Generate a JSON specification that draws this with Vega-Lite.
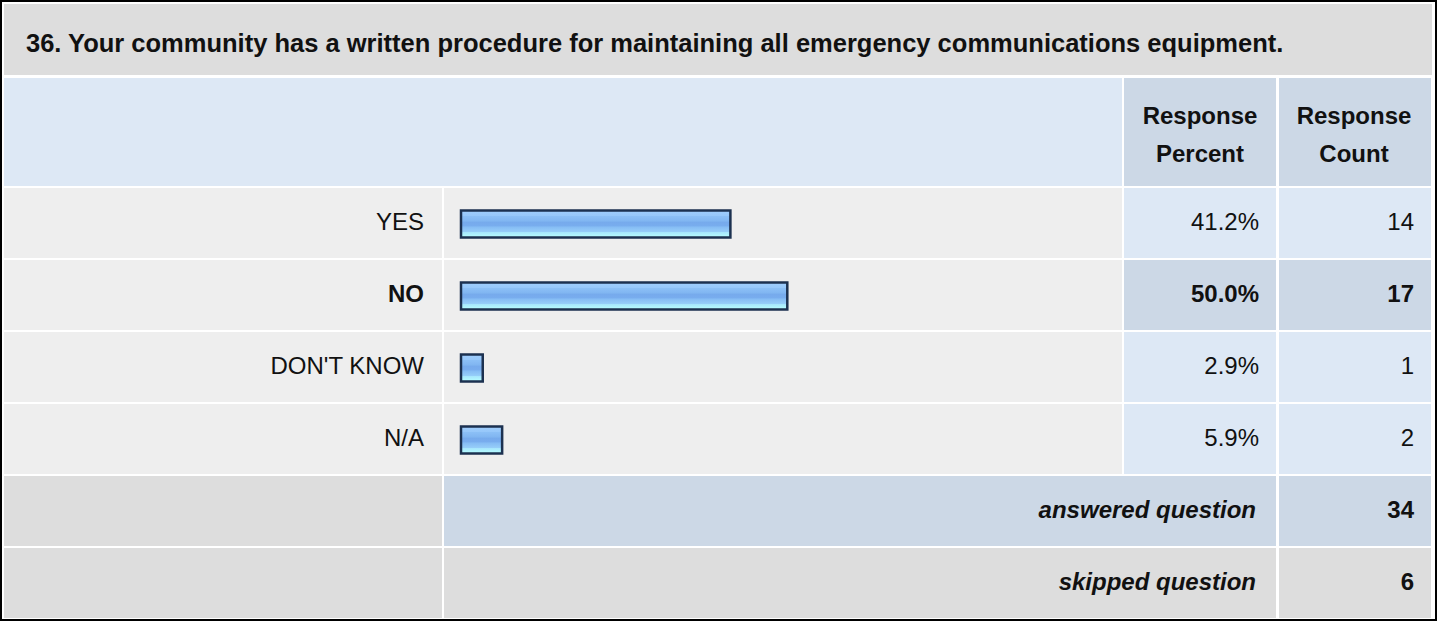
{
  "$schema": "https://vega.github.io/schema/vega-lite/v6.json",
  "width": 1437,
  "height": 621,
  "autosize": {"type": "fit", "contains": "padding"},
  "padding": 2,
  "background": "black",
  "config": {
    "view": {"fill": "white", "stroke": null},
    "axis": {"disable": true},
    "text": {"font": "Liberation Sans", "color": "#111111"}
  },
  "datasets": {
    "answers": [
      {"answer": "YES", "row": 1, "share": 0.412, "count": 14, "top": false},
      {"answer": "NO", "row": 2, "share": 0.5, "count": 17, "top": true},
      {"answer": "DON'T KNOW", "row": 3, "share": 0.029, "count": 1, "top": false},
      {"answer": "N/A", "row": 4, "share": 0.059, "count": 2, "top": false}
    ],
    "totals": [
      {"label": "answered question", "row": 5, "count": 34},
      {"label": "skipped question", "row": 6, "count": 6}
    ],
    "heading": [
      {"question": "36. Your community has a written procedure for maintaining all emergency communications equipment."}
    ]
  },
  "layer": [
    {
      "data": {"name": "heading"},
      "mark": {"type": "rect", "color": "#dddddd"},
      "encoding": {
        "x": {"datum": -0.71141, "type": "quantitative", "scale": {"domain": [-0.7145, 1.5017], "nice": false, "zero": false}},
        "x2": {"datum": 1.49706},
        "y": {"datum": -2.0417, "type": "quantitative", "scale": {"domain": [-2.0694, 6.5], "nice": false, "zero": false, "reverse": true}},
        "y2": {"datum": -1.0556}
      }
    },
    {
      "data": {"name": "heading"},
      "mark": {"type": "rect", "color": "#dde8f5"},
      "encoding": {
        "x": {"datum": -0.71141, "type": "quantitative"},
        "x2": {"datum": 1.01763},
        "y": {"datum": -1.0139, "type": "quantitative"},
        "y2": {"datum": 0.4861}
      }
    },
    {
      "data": {"name": "heading"},
      "mark": {"type": "rect", "color": "#ccd8e6"},
      "encoding": {
        "x": {"datum": 1.02072, "type": "quantitative"},
        "x2": {"datum": 1.2558},
        "y": {"datum": -1.0139, "type": "quantitative"},
        "y2": {"datum": 0.4861}
      }
    },
    {
      "data": {"name": "heading"},
      "mark": {"type": "rect", "color": "#ccd8e6"},
      "encoding": {
        "x": {"datum": 1.26044, "type": "quantitative"},
        "x2": {"datum": 1.49551},
        "y": {"datum": -1.0139, "type": "quantitative"},
        "y2": {"datum": 0.4861}
      }
    },
    {
      "data": {"name": "heading"},
      "mark": {"type": "text", "align": "left", "baseline": "alphabetic", "fontSize": 25.5, "fontWeight": "bold"},
      "encoding": {
        "x": {"datum": -0.67739, "type": "quantitative"},
        "y": {"datum": -1.375, "type": "quantitative"},
        "text": {"field": "question"}
      }
    },
    {
      "data": {"name": "heading"},
      "mark": {"type": "text", "text": ["Response", "Percent"], "lineHeight": 37.4, "align": "center", "baseline": "alphabetic", "fontSize": 24, "fontWeight": "bold"},
      "encoding": {
        "x": {"datum": 1.13826, "type": "quantitative"},
        "y": {"datum": -0.3708, "type": "quantitative"}
      }
    },
    {
      "data": {"name": "heading"},
      "mark": {"type": "text", "text": ["Response", "Count"], "lineHeight": 37.4, "align": "center", "baseline": "alphabetic", "fontSize": 24, "fontWeight": "bold"},
      "encoding": {
        "x": {"datum": 1.37643, "type": "quantitative"},
        "y": {"datum": -0.3708, "type": "quantitative"}
      }
    },
    {
      "data": {"name": "answers"},
      "mark": {"type": "rect", "color": "#eeeeee", "height": 70},
      "encoding": {
        "x": {"datum": -0.71141, "type": "quantitative"},
        "x2": {"datum": -0.03402},
        "y": {"field": "row", "type": "quantitative"}
      }
    },
    {
      "data": {"name": "answers"},
      "mark": {"type": "rect", "color": "#eeeeee", "height": 70},
      "encoding": {
        "x": {"datum": -0.03093, "type": "quantitative"},
        "x2": {"datum": 1.01763},
        "y": {"field": "row", "type": "quantitative"}
      }
    },
    {
      "data": {"name": "answers"},
      "mark": {"type": "rect", "height": 70},
      "encoding": {
        "x": {"datum": 1.02072, "type": "quantitative"},
        "x2": {"datum": 1.2558},
        "y": {"field": "row", "type": "quantitative"},
        "fill": {"condition": {"test": "datum.top", "value": "#ccd8e6"}, "value": "#dde8f5"}
      }
    },
    {
      "data": {"name": "answers"},
      "mark": {"type": "rect", "height": 70},
      "encoding": {
        "x": {"datum": 1.26044, "type": "quantitative"},
        "x2": {"datum": 1.49551},
        "y": {"field": "row", "type": "quantitative"},
        "fill": {"condition": {"test": "datum.top", "value": "#ccd8e6"}, "value": "#dde8f5"}
      }
    },
    {
      "data": {"name": "answers"},
      "mark": {
        "type": "rect",
        "height": 27,
        "yOffset": 1,
        "x2Offset": -3,
        "stroke": "#1c3150",
        "strokeWidth": 2.5,
        "fill": {
          "x1": 0, "y1": 0, "x2": 0, "y2": 1,
          "gradient": "linear",
          "stops": [
            {"offset": 0, "color": "#a0cefc"},
            {"offset": 0.2, "color": "#96c7fa"},
            {"offset": 0.22, "color": "#8bbff6"},
            {"offset": 0.4, "color": "#80b5f1"},
            {"offset": 0.42, "color": "#76aaec"},
            {"offset": 0.58, "color": "#78adee"},
            {"offset": 0.6, "color": "#84bbf4"},
            {"offset": 0.78, "color": "#95cdf9"},
            {"offset": 0.8, "color": "#a6e6fd"},
            {"offset": 1, "color": "#b8ffff"}
          ]
        }
      },
      "encoding": {
        "x": {"field": "share", "type": "quantitative"},
        "x2": {"datum": 0},
        "y": {"field": "row", "type": "quantitative"}
      }
    },
    {
      "data": {"name": "answers"},
      "transform": [{"filter": "!datum.top"}],
      "mark": {"type": "text", "align": "right", "baseline": "middle", "fontSize": 24},
      "encoding": {
        "x": {"datum": -0.06186, "type": "quantitative"},
        "y": {"field": "row", "type": "quantitative"},
        "text": {"field": "answer"}
      }
    },
    {
      "data": {"name": "answers"},
      "transform": [{"filter": "datum.top"}],
      "mark": {"type": "text", "align": "right", "baseline": "middle", "fontSize": 24, "fontWeight": "bold"},
      "encoding": {
        "x": {"datum": -0.06186, "type": "quantitative"},
        "y": {"field": "row", "type": "quantitative"},
        "text": {"field": "answer"}
      }
    },
    {
      "data": {"name": "answers"},
      "transform": [{"filter": "!datum.top"}],
      "mark": {"type": "text", "align": "right", "baseline": "middle", "fontSize": 24},
      "encoding": {
        "x": {"datum": 1.22951, "type": "quantitative"},
        "y": {"field": "row", "type": "quantitative"},
        "text": {"field": "share", "format": ".1%"}
      }
    },
    {
      "data": {"name": "answers"},
      "transform": [{"filter": "datum.top"}],
      "mark": {"type": "text", "align": "right", "baseline": "middle", "fontSize": 24, "fontWeight": "bold"},
      "encoding": {
        "x": {"datum": 1.22951, "type": "quantitative"},
        "y": {"field": "row", "type": "quantitative"},
        "text": {"field": "share", "format": ".1%"}
      }
    },
    {
      "data": {"name": "answers"},
      "transform": [{"filter": "!datum.top"}],
      "mark": {"type": "text", "align": "right", "baseline": "middle", "fontSize": 24},
      "encoding": {
        "x": {"datum": 1.46922, "type": "quantitative"},
        "y": {"field": "row", "type": "quantitative"},
        "text": {"field": "count"}
      }
    },
    {
      "data": {"name": "answers"},
      "transform": [{"filter": "datum.top"}],
      "mark": {"type": "text", "align": "right", "baseline": "middle", "fontSize": 24, "fontWeight": "bold"},
      "encoding": {
        "x": {"datum": 1.46922, "type": "quantitative"},
        "y": {"field": "row", "type": "quantitative"},
        "text": {"field": "count"}
      }
    },
    {
      "data": {"name": "totals"},
      "mark": {"type": "rect", "color": "#dddddd", "height": 70},
      "encoding": {
        "x": {"datum": -0.71141, "type": "quantitative"},
        "x2": {"datum": -0.03402},
        "y": {"field": "row", "type": "quantitative"}
      }
    },
    {
      "data": {"name": "totals"},
      "mark": {"type": "rect", "height": 70},
      "encoding": {
        "x": {"datum": -0.03093, "type": "quantitative"},
        "x2": {"datum": 1.2558},
        "y": {"field": "row", "type": "quantitative"},
        "fill": {"condition": {"test": "datum.label == 'answered question'", "value": "#ccd8e6"}, "value": "#dddddd"}
      }
    },
    {
      "data": {"name": "totals"},
      "mark": {"type": "rect", "height": 70},
      "encoding": {
        "x": {"datum": 1.26044, "type": "quantitative"},
        "x2": {"datum": 1.49551},
        "y": {"field": "row", "type": "quantitative"},
        "fill": {"condition": {"test": "datum.label == 'answered question'", "value": "#ccd8e6"}, "value": "#dddddd"}
      }
    },
    {
      "data": {"name": "totals"},
      "mark": {"type": "text", "align": "right", "baseline": "middle", "fontSize": 24, "fontWeight": "bold", "fontStyle": "italic"},
      "encoding": {
        "x": {"datum": 1.22486, "type": "quantitative"},
        "y": {"field": "row", "type": "quantitative"},
        "text": {"field": "label"}
      }
    },
    {
      "data": {"name": "totals"},
      "mark": {"type": "text", "align": "right", "baseline": "middle", "fontSize": 24, "fontWeight": "bold"},
      "encoding": {
        "x": {"datum": 1.46922, "type": "quantitative"},
        "y": {"field": "row", "type": "quantitative"},
        "text": {"field": "count"}
      }
    }
  ]
}
